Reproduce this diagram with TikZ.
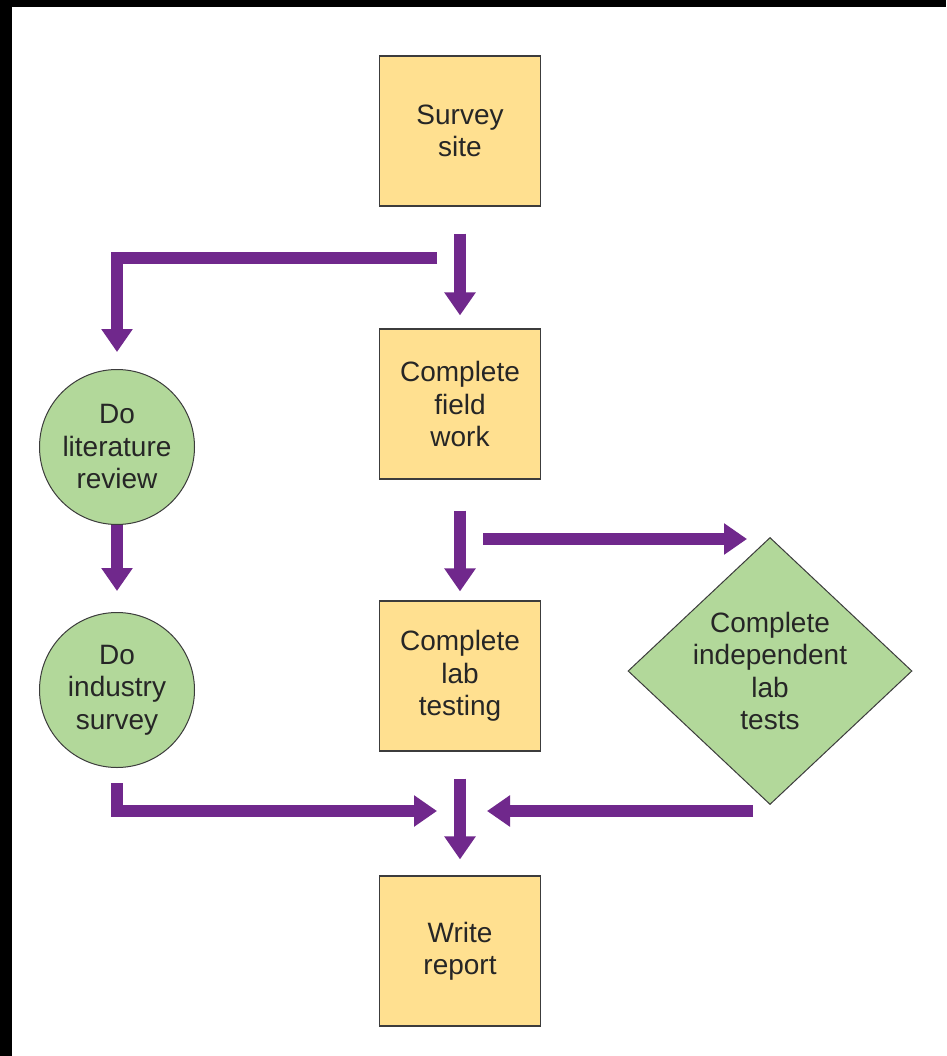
\documentclass[tikz,border=0pt]{standalone}
\usepackage{fontspec}
\setmainfont{Liberation Sans}
\usetikzlibrary{shapes.geometric,arrows.meta}
\definecolor{boxyellow}{RGB}{255,224,144}
\definecolor{leafgreen}{RGB}{178,216,154}
\definecolor{flowpurple}{RGB}{112,40,140}
\definecolor{edgegray}{RGB}{60,60,60}
\definecolor{inkgray}{RGB}{38,38,38}

\begin{document}
\begin{tikzpicture}[
    x=1pt, y=-1pt,
    label text/.style={
        font=\fontsize{28}{32.5}\selectfont,
        text=inkgray,
        align=center
    },
    task/.style={
        label text,
        rectangle,
        draw=edgegray,
        line width=1.2pt,
        fill=boxyellow,
        minimum width=161pt,
        minimum height=150pt
    },
    study/.style={
        label text,
        circle,
        draw=edgegray,
        line width=1pt,
        fill=leafgreen,
        inner sep=2pt,
        minimum size=155pt
    },
    check/.style={
        label text,
        diamond,
        draw=edgegray,
        line width=1pt,
        fill=leafgreen,
        inner sep=-8pt,
        minimum width=284pt,
        minimum height=267pt
    },
    flow/.style={
        draw=flowpurple,
        line width=12pt,
        line join=miter,
        -{Triangle[width=30pt,length=23pt]}
    }
]
    \fill[black] (0,0) rectangle (946,1056);
    \fill[white] (12,7) rectangle (946,1056);
    \useasboundingbox (0,0) rectangle (946,1056);

    \foreach \name/\x/\y/\txt in {
        survey/460/131/Survey\\site,
        field/460/404/Complete\\field\\work,
        lab/460/676/Complete\\lab\\testing,
        report/460/951/Write\\report%
    } {
        \node[task] (\name) at (\x, \y) {\txt};
    }
    \foreach \name/\x/\y/\txt in {
        litrev/117/447/Do\\literature\\review,
        industry/117/690/Do\\industry\\survey%
    } {
        \node[study] (\name) at (\x, \y) {\txt};
    }
    \node[check] (indep) at (770, 671) {Complete\\independent\\lab\\tests};

    \coordinate (fork) at (437, 258);
    \coordinate (branch) at (483, 539);
    \coordinate (joinL) at (437, 811);
    \coordinate (joinR) at (487, 811);

    \draw[flow, shorten <=27pt, shorten >=13pt] (survey) -- (field);
    \draw[flow, shorten >=17pt] (fork) -| (litrev);
    \draw[flow, shorten >=21pt] (litrev) -- (industry);
    \draw[flow, shorten <=31pt, shorten >=9pt] (field) -- (lab);
    \draw[flow] (branch) -- ([xshift=-23pt]indep.north |- branch);
    \draw[flow] ([yshift=-15pt]industry.south) |- (joinL);
    \draw[flow, shorten <=27pt, shorten >=16pt] (lab) -- (report);
    \draw[flow] ([xshift=-17pt]indep.south |- joinR) -- (joinR);

\end{tikzpicture}
\end{document}
